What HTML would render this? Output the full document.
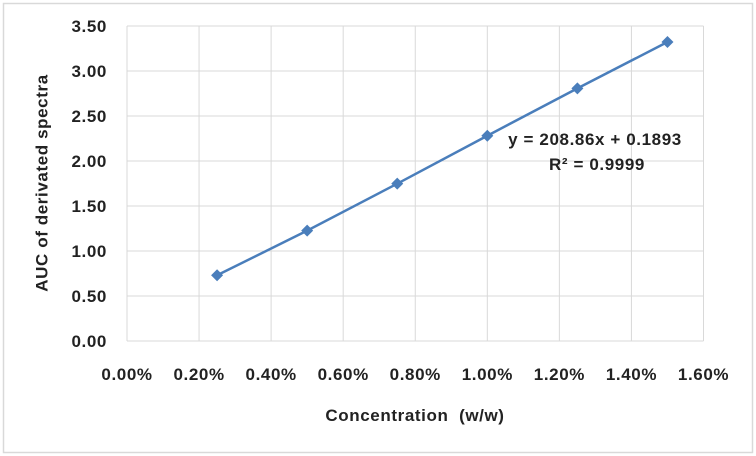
<!DOCTYPE html>
<html><head><meta charset="utf-8"><style>
html,body{margin:0;padding:0;background:#fff;}
svg{display:block;font-family:"Liberation Sans",sans-serif;}
svg text{letter-spacing:0.6px;}
</style></head><body>
<svg id="chart" width="756" height="456">
<rect x="3.5" y="3.5" width="749" height="449" fill="#fff" stroke="#d9d9d9" stroke-width="1.5"/>
<g id="grid"></g>
<g id="ylabels"></g>
<g id="xlabels"></g>
<g id="series"></g>
<text x="43" y="183" transform="rotate(-90 43 183)" text-anchor="middle" dominant-baseline="middle" font-size="17" font-weight="bold" fill="#222">AUC of derivated spectra</text>
<text x="415" y="421" text-anchor="middle" font-size="17" font-weight="bold" fill="#222">Concentration&#160;&#160;(w/w)</text>
<text x="595" y="145" text-anchor="middle" font-size="17" font-weight="bold" fill="#222">y = 208.86x + 0.1893</text>
<text x="597" y="170" text-anchor="middle" font-size="17" font-weight="bold" fill="#222">R² = 0.9999</text>
</svg>
<script>
const xValues = [0.25, 0.5, 0.75, 1.0, 1.25, 1.5];
const yValues = [0.73, 1.226, 1.748, 2.281, 2.807, 3.322];
const xTicks = [0, 0.2, 0.4, 0.6, 0.8, 1.0, 1.2, 1.4, 1.6];
const yTicks = [0, 0.5, 1.0, 1.5, 2.0, 2.5, 3.0, 3.5];

const L=127, R=703.5, T=26, B=341;
const xs = v => L + (v-0)/(1.6-0)*(R-L);
const ys = v => B - v/3.5*(B-T);
const NS="http://www.w3.org/2000/svg";
function mk(tag, attrs, parent){const e=document.createElementNS(NS,tag);for(const k in attrs)e.setAttribute(k,attrs[k]);parent.appendChild(e);return e;}
const grid=document.getElementById('grid'), yl=document.getElementById('ylabels'), xl=document.getElementById('xlabels'), ser=document.getElementById('series');
yTicks.forEach(t=>{
  const l=mk('line',{x1:L,x2:R,y1:ys(t),y2:ys(t),stroke:'#d9d9d9','stroke-width':1},grid);
  
  
  const tx=mk('text',{x:107,y:ys(t)+6,'text-anchor':'end','font-size':17,'font-weight':'bold',fill:'#222'},yl);
  tx.textContent=t.toFixed(2);
  
  
});
xTicks.forEach(t=>{
  const l=mk('line',{x1:xs(t),x2:xs(t),y1:T,y2:B,stroke:'#d9d9d9','stroke-width':1},grid);
  
  
  const tx=mk('text',{x:xs(t),y:380,'text-anchor':'middle','font-size':17,'font-weight':'bold',fill:'#222'},xl);
  tx.textContent=t.toFixed(2)+'%';
  
  
});
const pts=xValues.map((x,i)=>xs(x)+','+ys(yValues[i])).join(' ');
const pl=mk('polyline',{points:pts,fill:'none',stroke:'#4a7ebb','stroke-width':2.5},ser);


xValues.forEach((x,i)=>{
  const cx=xs(x), cy=ys(yValues[i]), s=6;
  const m=mk('polygon',{points:`${cx},${cy-s} ${cx+s},${cy} ${cx},${cy+s} ${cx-s},${cy}`,fill:'#4a7ebb'},ser);
  
  
});
</script>
</body></html>
